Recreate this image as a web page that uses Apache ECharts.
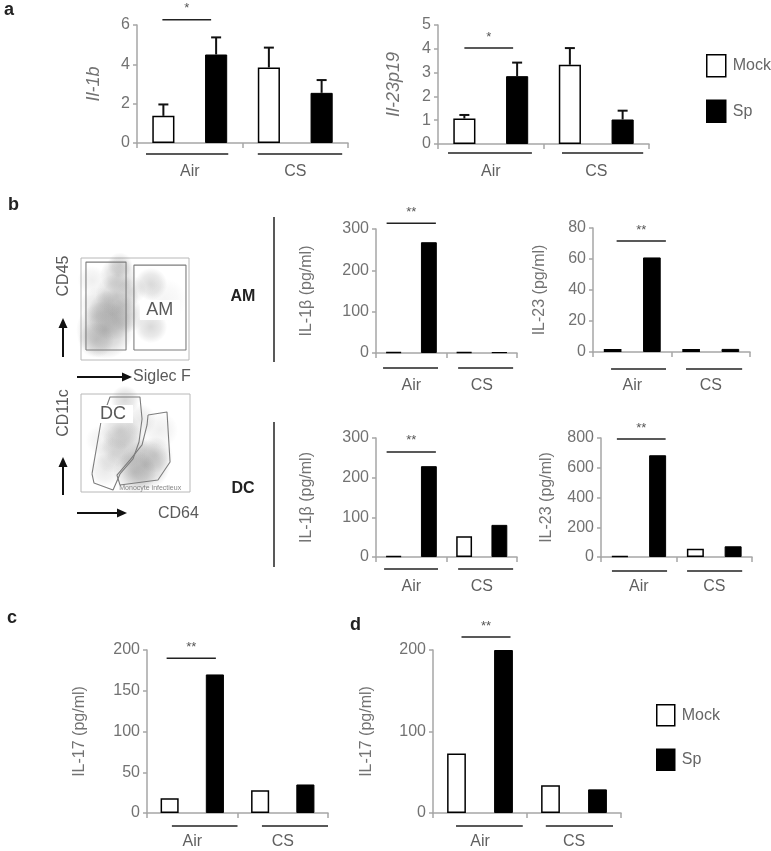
<!DOCTYPE html>
<html>
<head>
<meta charset="utf-8">
<script src="https://cdn.jsdelivr.net/npm/echarts@6/dist/echarts.min.js"></script>
<style>
html,body{margin:0;padding:0;background:#fff;}
#chart{width:771px;height:851px;}
</style>
</head>
<body>
<div id="chart"></div>
<script>
// ---------- DATA ----------
const groups = ['Air', 'CS'];
const treatments = ['Mock', 'Sp'];
const barCategories = ['Air Mock', 'Air Sp', 'CS Mock', 'CS Sp'];

// panel a (relative expression, mean + SEM)
const il1bMock = [1.38, 3.84];
const il1bSp = [4.5, 2.55];
const il1bMockErr = [0.58, 1.01];
const il1bSpErr = [0.87, 0.65];
const il1bTicks = [0, 2, 4, 6];

const il23p19Mock = [1.07, 3.33];
const il23p19Sp = [2.85, 1.03];
const il23p19MockErr = [0.15, 0.70];
const il23p19SpErr = [0.57, 0.37];
const il23p19Ticks = [0, 1, 2, 3, 4, 5];

// panel b (pg/ml)
const amIl1bMock = [2, 2];
const amIl1bSp = [268, 2];
const amIl1bTicks = [0, 100, 200, 300];
const amIl23Mock = [2, 2];
const amIl23Sp = [61, 2];
const amIl23Ticks = [0, 20, 40, 60, 80];
const dcIl1bMock = [2, 52];
const dcIl1bSp = [229, 81];
const dcIl1bTicks = [0, 100, 200, 300];
const dcIl23Mock = [6, 56];
const dcIl23Sp = [684, 72];
const dcIl23Ticks = [0, 200, 400, 600, 800];

// panels c, d (pg/ml)
const il17cMock = [18, 28];
const il17cSp = [170, 35];
const il17cTicks = [0, 50, 100, 150, 200];
const il17dMock = [73, 34];
const il17dSp = [200, 29];
const il17dTicks = [0, 100, 200];

const sigMarks = ['*', '*', '**', '**', '**', '**', '**', '**'];

// flow cytometry gates (plot units 0-100)
const amGateLeft = [[4.6, 9.8], [4.6, 96], [41.7, 96], [41.7, 9.8], [4.6, 9.8]];
const amGateRight = [[49, 9.8], [49, 93], [97.2, 93], [97.2, 9.8], [49, 9.8]];
const dcGate = [[10.1, 18.4], [11.9, 9.2], [29.4, 2], [35.8, 18.4], [47.7, 33.7], [53.2, 51], [56, 74.5], [54.1, 96.9], [26.6, 96.9], [18.3, 71.4], [10.1, 18.4]];
const monoGate = [[61.5, 78.6], [78.9, 81.6], [81.7, 30.6], [70.6, 12.2], [35.8, 7.1], [33, 17.3], [45, 32.7], [56, 48], [60.6, 68.4], [61.5, 78.6]];
// estimated event density: [x, y, spread, density]
const amCloud = [[22.2, 29.4, 32, 0.55], [28.7, 44.1, 28, 0.5], [33.3, 63.7, 24, 0.45], [34.3, 83.3, 20, 0.4], [13.9, 19.6, 20, 0.35], [15.7, 53.9, 20, 0.25], [10.2, 78.4, 16, 0.15], [42.6, 44.1, 20, 0.3], [47.2, 68.6, 16, 0.2], [64.8, 74.5, 18, 0.35], [64.8, 32.4, 18, 0.35], [77.8, 58.8, 24, 0.1], [36.1, 93.1, 14, 0.3]];
const dcCloud = [[58.7, 27.6, 28, 0.5], [49.5, 20.4, 24, 0.45], [40.4, 48, 26, 0.4], [35.8, 63.3, 22, 0.35], [67.9, 37.8, 20, 0.35], [28.4, 37.8, 20, 0.25], [22, 22.4, 18, 0.2], [40.4, 93.9, 16, 0.35], [72.5, 63.3, 20, 0.15], [54.1, 73.5, 18, 0.2], [17.4, 53, 16, 0.12]];

// ---------- LAYOUT / STYLE ----------
const FONT = '"Liberation Sans", Arial, sans-serif';
const AXIS_GREY = '#a6a6a6';
const LABEL_GREY = '#727272';

const charts = [
  {grid: {left: 137, top: 25, width: 211, height: 118}, ticks: il1bTicks, name: 'Il-1b', italic: true, nameGap: 34, nameSize: 18,
   mock: il1bMock, sp: il1bSp, mockErr: il1bMockErr, spErr: il1bSpErr, barWidth: '42%', groupMargin: 21,
   sigLevel: 6.27, sigDx: [-1, -5], ulDy: 11, ulAir: [0.17, -0.27], ulCs: [0.29, -0.11]},
  {grid: {left: 438, top: 25, width: 211, height: 119}, ticks: il23p19Ticks, name: 'Il-23p19', italic: true, nameGap: 35, nameSize: 18,
   mock: il23p19Mock, sp: il23p19Sp, mockErr: il23p19MockErr, spErr: il23p19SpErr, barWidth: '42%', groupMargin: 20,
   sigLevel: 4.03, sigDx: [0, -4], ulDy: 9, ulAir: [0.19, -0.22], ulCs: [0.35, -0.11]},
  {grid: {left: 376, top: 229, width: 141, height: 124}, ticks: amIl1bTicks, name: 'IL-1β (pg/ml)', nameGap: 61, nameSize: 16,
   mock: amIl1bMock, sp: amIl1bSp, barWidth: '45%', groupMargin: 25,
   sigLevel: 314, sigDx: [-7, 7], ulDy: 15, ulAir: [0.2, -0.24], ulCs: [0.33, -0.11]},
  {grid: {left: 593, top: 228, width: 157, height: 124}, ticks: amIl23Ticks, name: 'IL-23 (pg/ml)', nameGap: 45, nameSize: 16,
   mock: amIl23Mock, sp: amIl23Sp, barWidth: '45%', groupMargin: 26,
   sigLevel: 71.6, sigDx: [4, 14], ulDy: 17, ulAir: [0.46, -0.14], ulCs: [0.37, -0.2]},
  {grid: {left: 376, top: 438, width: 141, height: 119}, ticks: dcIl1bTicks, name: 'IL-1β (pg/ml)', nameGap: 61, nameSize: 16,
   mock: dcIl1bMock, sp: dcIl1bSp, barWidth: '45%', groupMargin: 22,
   sigLevel: 265, sigDx: [-7, 7], ulDy: 12, ulAir: [0.23, -0.24], ulCs: [0.33, -0.11]},
  {grid: {left: 601, top: 438, width: 151, height: 119}, ticks: dcIl23Ticks, name: 'IL-23 (pg/ml)', nameGap: 46, nameSize: 16,
   mock: dcIl23Mock, sp: dcIl23Sp, barWidth: '45%', groupMargin: 22,
   sigLevel: 793, sigDx: [-3, 8], ulDy: 14, ulAir: [0.29, -0.25], ulCs: [0.28, -0.26]},
  {grid: {left: 147, top: 650, width: 181, height: 163}, ticks: il17cTicks, name: 'IL-17 (pg/ml)', nameGap: 59, nameSize: 16,
   mock: il17cMock, sp: il17cSp, barWidth: '40%', groupMargin: 21,
   sigLevel: 190, sigDx: [-3, 1], ulDy: 13, ulAir: [0.55, 0], ulCs: [0.54, 0]},
  {grid: {left: 433, top: 650, width: 188, height: 163}, ticks: il17dTicks, name: 'IL-17 (pg/ml)', nameGap: 58, nameSize: 16,
   mock: il17dMock, sp: il17dSp, barWidth: '40%', groupMargin: 21,
   sigLevel: 216, sigDx: [5, 7], ulDy: 13, ulAir: [0.49, -0.09], ulCs: [0.4, -0.17]}
];

const flows = [
  {grid: {left: 81, top: 258, width: 108, height: 102}, gates: [amGateLeft, amGateRight], cloud: amCloud,
   label: {text: 'AM', pos: [73, 49], size: [40, 20]}},
  {grid: {left: 81, top: 394, width: 109, height: 98}, gates: [dcGate, monoGate], cloud: dcCloud,
   label: {text: 'DC', pos: [29.4, 79.6], size: [40, 18]}, small: {text: 'Monocyte infectieux', pos: [63.5, 4.5]}}
];

// ---------- BUILD ----------
const grids = [], xAxes = [], yAxes = [], series = [];

function errRender(params, api) {
  const x = api.value(0), v = api.value(1), e = api.value(2);
  const b = api.coord([x, v]);
  const t = api.coord([x, v + e]);
  return {type: 'group', children: [
    {type: 'line', shape: {x1: b[0], y1: b[1], x2: t[0], y2: t[1]}, style: {stroke: '#111', lineWidth: 2}},
    {type: 'line', shape: {x1: t[0] - 5, y1: t[1], x2: t[0] + 5, y2: t[1]}, style: {stroke: '#111', lineWidth: 2}}
  ]};
}

charts.forEach((c, i) => {
  grids.push(Object.assign({containLabel: false}, c.grid));
  xAxes.push({type: 'category', gridIndex: i, data: barCategories, position: 'bottom',
    axisLine: {show: true, lineStyle: {color: AXIS_GREY, width: 1.5}},
    axisTick: {show: true, length: 5, lineStyle: {color: AXIS_GREY, width: 1.5}},
    axisLabel: {show: false}, splitLine: {show: false}});
  xAxes.push({type: 'category', gridIndex: i, data: groups, position: 'bottom',
    axisLine: {show: false}, axisTick: {show: false}, splitLine: {show: false},
    axisLabel: {show: true, margin: c.groupMargin, fontSize: 16, color: '#606060', fontFamily: FONT}});
  const tk = c.ticks;
  yAxes.push({type: 'value', gridIndex: i, min: tk[0], max: tk[tk.length - 1], interval: tk[1] - tk[0],
    axisLine: {show: true, lineStyle: {color: AXIS_GREY, width: 1.5}},
    axisTick: {show: true, length: 4, lineStyle: {color: AXIS_GREY, width: 1.5}},
    splitLine: {show: false},
    axisLabel: {fontSize: 16, color: LABEL_GREY, margin: 7, fontFamily: FONT},
    name: c.name, nameLocation: 'middle', nameRotate: 90, nameGap: c.nameGap,
    nameTextStyle: {fontSize: c.nameSize, color: LABEL_GREY, fontStyle: c.italic ? 'italic' : 'normal', fontFamily: FONT}});
  const mockData = [c.mock[0], '-', c.mock[1], '-'];
  const spData = ['-', c.sp[0], '-', c.sp[1]];
  series.push({type: 'bar', name: treatments[0], xAxisIndex: 2 * i, yAxisIndex: i, data: mockData,
    barWidth: c.barWidth, barGap: '-100%', z: 2,
    itemStyle: {color: '#ffffff', borderColor: '#000', borderWidth: 1.5}});
  series.push({type: 'bar', name: treatments[1], xAxisIndex: 2 * i, yAxisIndex: i, data: spData,
    barWidth: c.barWidth, barGap: '-100%', z: 2,
    itemStyle: {color: '#000000', borderColor: '#000', borderWidth: 1}});
  if (c.mockErr) {
    series.push({type: 'custom', xAxisIndex: 2 * i, yAxisIndex: i, renderItem: errRender, z: 5, silent: true,
      encode: {x: 0, y: 1}, data: [[0, c.mock[0], c.mockErr[0]], [2, c.mock[1], c.mockErr[1]]]});
    series.push({type: 'custom', xAxisIndex: 2 * i, yAxisIndex: i, renderItem: errRender, z: 5, silent: true,
      encode: {x: 0, y: 1}, data: [[1, c.sp[0], c.spErr[0]], [3, c.sp[1], c.spErr[1]]]});
  }
});

const nBar = charts.length;
flows.forEach((f, k) => {
  const gi = nBar + k;
  const xi = xAxes.length;
  grids.push(Object.assign({show: true, borderColor: '#b8b8b8', borderWidth: 1, backgroundColor: '#fff'}, f.grid));
  xAxes.push({type: 'value', gridIndex: gi, min: 0, max: 100, show: false});
  yAxes.push({type: 'value', gridIndex: gi, min: 0, max: 100, show: false});
  series.push({type: 'scatter', xAxisIndex: xi, yAxisIndex: gi, silent: true, z: 1,
    data: f.cloud.map(p => ({value: [p[0], p[1]], symbolSize: p[2] * 1.8,
      itemStyle: {opacity: 1, color: {type: 'radial', x: 0.5, y: 0.5, r: 0.5,
        colorStops: [{offset: 0, color: 'rgba(120,120,120,' + (p[3] * 0.8).toFixed(3) + ')'},
                     {offset: 0.6, color: 'rgba(120,120,120,' + (p[3] * 0.45).toFixed(3) + ')'},
                     {offset: 1, color: 'rgba(120,120,120,0)'}]}}}))});
  f.gates.forEach(gate => {
    series.push({type: 'line', xAxisIndex: xi, yAxisIndex: gi, data: gate, symbol: 'none', silent: true, z: 3,
      lineStyle: {color: '#7d7d7d', width: 1.1}});
  });
  series.push({type: 'scatter', xAxisIndex: xi, yAxisIndex: gi, silent: true, z: 4,
    data: [{value: f.label.pos, name: f.label.text}], symbol: 'rect', symbolSize: f.label.size,
    itemStyle: {color: '#ffffff', opacity: 1},
    label: {show: true, position: 'inside', formatter: '{b}', fontSize: 18, color: '#5a5a5a', fontFamily: FONT}});
  if (f.small) {
    series.push({type: 'scatter', xAxisIndex: xi, yAxisIndex: gi, silent: true, z: 4,
      data: [{value: f.small.pos, name: f.small.text}], symbolSize: 0,
      label: {show: true, position: 'inside', formatter: '{b}', fontSize: 7, color: '#666', fontFamily: FONT}});
  }
});

const legendBase = {orient: 'vertical', icon: 'rect', itemWidth: 19, itemHeight: 22, itemGap: 22,
  selectedMode: false, data: treatments,
  itemStyle: {borderColor: '#000', borderWidth: 1.5},
  textStyle: {fontSize: 16, color: '#666', fontFamily: FONT, padding: [0, 0, 0, 2]}};

const option = {
  animation: false,
  backgroundColor: '#ffffff',
  textStyle: {fontFamily: FONT},
  grid: grids, xAxis: xAxes, yAxis: yAxes, series: series,
  legend: [
    Object.assign({}, legendBase, {left: 701, top: 49}),
    Object.assign({}, legendBase, {left: 651, top: 699, itemWidth: 18, itemHeight: 21})
  ]
};

const chart = echarts.init(document.getElementById('chart'), null, {renderer: 'canvas'});
chart.setOption(option);

// ---------- ANNOTATIONS (placed through the axes) ----------
const g = [];
const LINE = {stroke: '#222', lineWidth: 1.5};
charts.forEach((c, i) => {
  const p0 = chart.convertToPixel({xAxisIndex: 2 * i, yAxisIndex: i}, [0, 0]);
  const p1 = chart.convertToPixel({xAxisIndex: 2 * i, yAxisIndex: i}, [1, 0]);
  const cw = p1[0] - p0[0];
  const yU = p0[1] + c.ulDy;
  const airL = p0[0] - cw / 2, airR = p0[0] + 1.5 * cw;
  const csL = p0[0] + 1.5 * cw, csR = p0[0] + 3.5 * cw;
  g.push({type: 'line', shape: {x1: airL + c.ulAir[0] * cw, y1: yU, x2: airR + c.ulAir[1] * cw, y2: yU}, style: LINE});
  g.push({type: 'line', shape: {x1: csL + c.ulCs[0] * cw, y1: yU, x2: csR + c.ulCs[1] * cw, y2: yU}, style: LINE});
  const s = chart.convertToPixel({xAxisIndex: 2 * i, yAxisIndex: i}, [0, c.sigLevel]);
  const x0 = s[0] + c.sigDx[0], x1 = s[0] + cw + c.sigDx[1];
  g.push({type: 'line', shape: {x1: x0, y1: s[1], x2: x1, y2: s[1]}, style: LINE});
  g.push({type: 'text', x: (x0 + x1) / 2, y: s[1] - 11,
    style: {text: sigMarks[i], align: 'center', verticalAlign: 'middle', fill: '#555', font: '13px ' + FONT}});
});

// panel letters
[['a', 4, 10], ['b', 8, 205], ['c', 7, 618], ['d', 350, 625]].forEach(l => {
  g.push({type: 'text', x: l[1], y: l[2], style: {text: l[0], verticalAlign: 'middle', font: 'bold 18px ' + FONT, fill: '#222'}});
});
// AM / DC row labels and separators
g.push({type: 'text', x: 243, y: 297, style: {text: 'AM', align: 'center', verticalAlign: 'middle', font: 'bold 16px ' + FONT, fill: '#222'}});
g.push({type: 'text', x: 243, y: 489, style: {text: 'DC', align: 'center', verticalAlign: 'middle', font: 'bold 16px ' + FONT, fill: '#222'}});
g.push({type: 'line', shape: {x1: 274, y1: 217, x2: 274, y2: 362}, style: {stroke: '#222', lineWidth: 1.5}});
g.push({type: 'line', shape: {x1: 274, y1: 422, x2: 274, y2: 567}, style: {stroke: '#222', lineWidth: 1.5}});

// flow axis labels and arrows
function upArrow(x, yBottom, yTip) {
  g.push({type: 'line', shape: {x1: x, y1: yBottom, x2: x, y2: yTip + 8}, style: {stroke: '#111', lineWidth: 2}});
  g.push({type: 'polygon', shape: {points: [[x - 4.5, yTip + 10], [x + 4.5, yTip + 10], [x, yTip]]}, style: {fill: '#111'}});
}
function rightArrow(xStart, xTip, y) {
  g.push({type: 'line', shape: {x1: xStart, y1: y, x2: xTip - 8, y2: y}, style: {stroke: '#111', lineWidth: 2}});
  g.push({type: 'polygon', shape: {points: [[xTip - 10, y - 4.5], [xTip - 10, y + 4.5], [xTip, y]]}, style: {fill: '#111'}});
}
function vText(t, x, y) {
  g.push({type: 'text', x: x, y: y, rotation: Math.PI / 2,
    style: {text: t, align: 'center', verticalAlign: 'middle', font: '16px ' + FONT, fill: '#5a5a5a'}});
}
function hText(t, x, y) {
  g.push({type: 'text', x: x, y: y, style: {text: t, align: 'left', verticalAlign: 'middle', font: '16px ' + FONT, fill: '#5a5a5a'}});
}
vText('CD45', 64, 276);
upArrow(63, 357, 318);
hText('Siglec F', 133, 377);
rightArrow(77, 132, 377);
vText('CD11c', 64, 413);
upArrow(63, 495, 457);
hText('CD64', 158, 514);
rightArrow(77, 127, 513);

chart.setOption({graphic: g});
</script>
</body>
</html>
